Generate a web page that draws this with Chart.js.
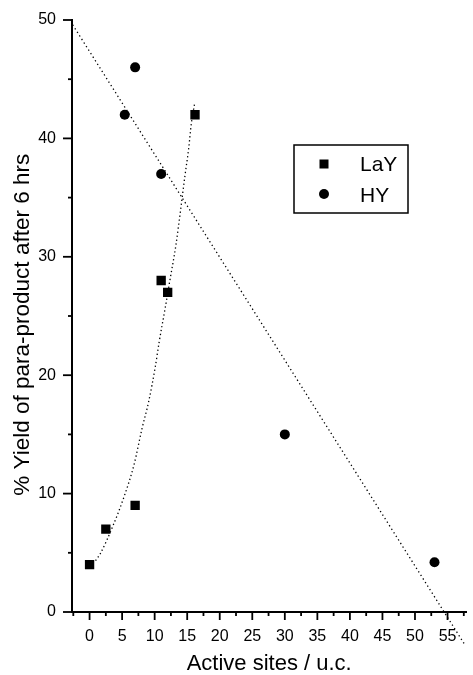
<!DOCTYPE html>
<html>
<head>
<meta charset="utf-8">
<script src="https://cdn.jsdelivr.net/npm/chart.js@4/dist/chart.umd.min.js"></script>
<style>
html,body{margin:0;padding:0;background:#fff;}
#wrap{width:473px;height:675px;}
</style>
</head>
<body>
<div id="wrap"><canvas id="c" width="473" height="675"></canvas></div>
<script>
// ---- data ----
const seriesNames = ['LaY', 'HY'];
const layX = [0, 2.5, 7, 11, 12, 16.2];
const layY = [4, 7, 9, 28, 27, 42];
const hyX = [7, 5.4, 11, 30, 53];
const hyY = [46, 42, 37, 15, 4.2];
// fitted curves
const layFitX = [0.92, 1.68, 3.54, 5.30, 6.82, 8.07, 9.08, 10.10, 10.70, 11.61, 12.41, 13.27, 14.02, 14.67, 15.23, 15.63, 16.14];
const layFitY = [4.33, 4.96, 7.21, 9.74, 12.42, 15.52, 17.76, 20.72, 22.83, 25.65, 28.23, 31.00, 34.10, 36.91, 39.16, 41.22, 42.96];
const hyFitX = [-2.6, 57.7];
const hyFitY = [49.6, -2.8];
const xTickValues = [0, 5, 10, 15, 20, 25, 30, 35, 40, 45, 50, 55];
const yTickValues = [0, 10, 20, 30, 40, 50];
const xTitle = 'Active sites / u.c.';
const yTitle = '% Yield of para-product after 6 hrs';

const toPts = (xs, ys) => xs.map((x, i) => ({x: x, y: ys[i]}));
const FONT = '"Liberation Sans", Arial, Helvetica, sans-serif';

const minorTicks = {
  id: 'minorTicks',
  afterDraw(chart) {
    const ctx = chart.ctx;
    const xs = chart.scales.x, ys = chart.scales.y;
    ctx.save();
    ctx.strokeStyle = '#000';
    ctx.lineWidth = 1.8;
    xs.ticks.forEach(t => {
      const major = xTickValues.some(v => Math.abs(v - t.value) < 1e-6);
      const px = xs.getPixelForValue(t.value);
      ctx.beginPath();
      ctx.moveTo(px, xs.top);
      ctx.lineTo(px, xs.top + (major ? 8 : 4));
      ctx.stroke();
    });
    ys.ticks.forEach(t => {
      const major = yTickValues.some(v => Math.abs(v - t.value) < 1e-6);
      const py = ys.getPixelForValue(t.value);
      ctx.beginPath();
      ctx.moveTo(ys.right, py);
      ctx.lineTo(ys.right - (major ? 9 : 4), py);
      ctx.stroke();
    });
    ctx.restore();
  }
};

const boxLegend = {
  id: 'boxLegend',
  afterDraw(chart) {
    const ctx = chart.ctx;
    const a = chart.chartArea;
    const bx = a.left + 222, by = a.top + 125, bw = 114, bh = 68;
    ctx.save();
    ctx.strokeStyle = '#000';
    ctx.lineWidth = 1.5;
    ctx.strokeRect(bx, by, bw, bh);
    ctx.fillStyle = '#000';
    ctx.font = '21px ' + FONT;
    ctx.textBaseline = 'middle';
    ctx.textAlign = 'left';
    // LaY
    ctx.fillRect(bx + 30 - 4.5, by + 19 - 4.5, 9, 9);
    ctx.fillText(seriesNames[0], bx + 66, by + 20);
    // HY
    ctx.beginPath();
    ctx.arc(bx + 30, by + 49, 5, 0, Math.PI * 2);
    ctx.fill();
    ctx.fillText(seriesNames[1], bx + 66, by + 51);
    ctx.restore();
  }
};

new Chart(document.getElementById('c'), {
  type: 'scatter',
  data: {
    datasets: [
      {
        label: seriesNames[0] + ' fit',
        data: toPts(layFitX, layFitY),
        showLine: true,
        pointRadius: 0,
        borderColor: '#000',
        borderWidth: 1.3,
        borderDash: [1.3, 2.7],
        cubicInterpolationMode: 'monotone',
        fill: false
      },
      {
        label: seriesNames[1] + ' fit',
        data: toPts(hyFitX, hyFitY),
        showLine: true,
        pointRadius: 0,
        borderColor: '#000',
        borderWidth: 1.3,
        borderDash: [1.3, 2.9],
        clip: {left: 5, top: 5, right: 5, bottom: 45},
        fill: false
      },
      {
        label: seriesNames[0],
        data: toPts(layX, layY),
        pointStyle: 'rect',
        pointRadius: 6.6,
        pointBackgroundColor: '#000',
        pointBorderColor: '#000',
        pointBorderWidth: 0
      },
      {
        label: seriesNames[1],
        data: toPts(hyX, hyY),
        pointStyle: 'circle',
        pointRadius: 5,
        pointBackgroundColor: '#000',
        pointBorderColor: '#000',
        pointBorderWidth: 0
      }
    ]
  },
  options: {
    responsive: false,
    animation: false,
    devicePixelRatio: 1,
    layout: {padding: {top: 20, right: 0, left: 0, bottom: 0}},
    plugins: {legend: {display: false}, tooltip: {enabled: false}},
    scales: {
      x: {
        type: 'linear',
        min: -2.7,
        max: 57.9,
        afterFit(s) { s.height = 63; },
        ticks: {
          stepSize: 2.5,
          includeBounds: false,
          autoSkip: false,
          maxRotation: 0,
          padding: 7,
          color: '#000',
          font: {family: FONT, size: 16},
          callback: v => xTickValues.some(t => Math.abs(t - v) < 1e-6) ? String(v) : ''
        },
        grid: {display: true, drawOnChartArea: false, drawTicks: true, tickLength: 8, tickColor: 'rgba(0,0,0,0)'},
        border: {display: true, color: '#000', width: 2},
        title: {display: true, text: xTitle, color: '#000', font: {family: FONT, size: 22, lineHeight: 1}, padding: {top: 0, bottom: 0}}
      },
      y: {
        type: 'linear',
        min: 0,
        max: 50,
        afterFit(s) { s.width = 72; },
        ticks: {
          stepSize: 5,
          includeBounds: false,
          autoSkip: false,
          padding: 8,
          color: '#000',
          font: {family: FONT, size: 16},
          callback: v => yTickValues.some(t => Math.abs(t - v) < 1e-6) ? String(v) : ''
        },
        grid: {display: true, drawOnChartArea: false, drawTicks: true, tickLength: 8, tickColor: 'rgba(0,0,0,0)'},
        border: {display: true, color: '#000', width: 2},
        title: {display: true, text: yTitle + '\u2002 ', color: '#000', font: {family: FONT, size: 22.5, lineHeight: 1}, padding: {top: 12, bottom: 0}}
      }
    }
  },
  plugins: [minorTicks, boxLegend]
});
</script>
</body>
</html>
